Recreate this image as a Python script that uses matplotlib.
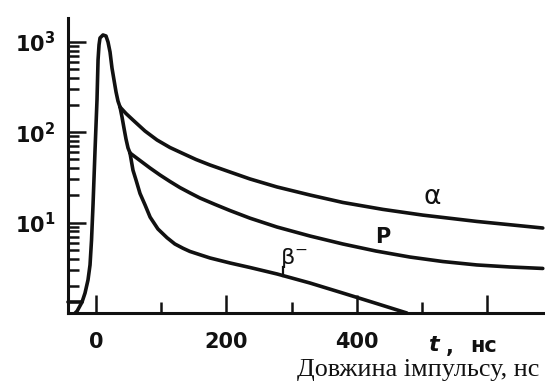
import numpy as np
import matplotlib.pyplot as plt
from matplotlib.ticker import FixedLocator, LogLocator, NullFormatter

# pulse shapes (t in ns, amplitude in arbitrary units)
rise_t = [-32, -29, -21.5, -16.9, -12.3, -9.2, -6.9, -4.6, -1.5, 1.5, 3.1, 4.6, 6.1,
          10.7, 15.3, 18.4, 21.5, 24.5, 27.6, 30.7, 33.7, 36.8]
rise_y = [1.0, 1.05, 1.32, 1.66, 2.32, 3.4, 6.4, 15.7, 63.6, 227, 629, 922, 1102,
          1190, 1159, 995, 771, 513, 378, 279, 221, 190]

alpha_t = [36.8, 46.0, 56.7, 75.2, 93.6, 113.5, 133.4, 153.4, 174.8, 205.5, 236.2,
           277.6, 328.2, 378.8, 440.2, 501.5, 584.4, 685.6]
alpha_y = [190, 161, 136.4, 103, 82, 67.7, 58.1, 49.9, 43.4, 36.3, 30.4,
           24.8, 20.2, 16.7, 14.0, 12.1, 10.3, 8.71]

common_t = [36.8, 39.9, 42.9, 46.0, 49.1, 52.1]
common_y = [190, 147, 111, 84, 67, 59]

p_t = [52.1, 67.5, 82.8, 98.2, 113.5, 128.8, 144.2, 159.5, 182.5, 205.5, 236.2,
       277.6, 328.2, 378.8, 429.4, 481.6, 532.2, 584.4, 635, 685.6]
p_y = [58.9, 48.6, 40.2, 33.6, 28.5, 24.4, 21.3, 18.7, 15.9, 13.6, 11.2,
       8.94, 7.11, 5.80, 4.85, 4.16, 3.71, 3.40, 3.23, 3.11]

beta_t = [52.1, 56.7, 61.3, 67.5, 75.2, 83, 95, 109, 121, 133.5, 144, 160, 175,
          206, 236, 278, 328, 379, 428, 477]
beta_y = [59, 38, 29.7, 21, 15.7, 11.5, 8.5, 6.8, 5.8, 5.2, 4.8, 4.4, 4.06,
          3.57, 3.19, 2.70, 2.15, 1.66, 1.29, 1.0]

base_t = [-43, -21.5]
base_y = [1.32, 1.32]

x_major = [0, 200, 400, 600]
x_major_labels = ["0", "200", "400", ""]
x_minor = [100, 300, 500]
y_major = [1e1, 1e2, 1e3]
y_major_labels = ["10$^{1}$", "10$^{2}$", "10$^{3}$"]

INK = "#111111"
LW = 2.6

plt.rcParams.update({
    "font.family": "DejaVu Sans",
    "mathtext.default": "regular",
    "text.color": INK,
})

fig = plt.figure(figsize=(5.45, 3.83), dpi=100)
ax = fig.add_axes([68 / 545, 70 / 383, 1 - 68 / 545, (313 - 18) / 383])

for t, y in [(rise_t, rise_y), (alpha_t, alpha_y), (common_t, common_y),
             (p_t, p_y), (beta_t, beta_y), (base_t, base_y)]:
    ax.plot(t, y, color=INK, linewidth=LW, solid_capstyle="round",
            solid_joinstyle="round", clip_on=False)

ax.set_yscale("log")
ax.set_xlim(-43, 689)
ax.set_ylim(1, 10 ** (295 / 90.4))

for side in ["top", "right"]:
    ax.spines[side].set_visible(False)
for side in ["left", "bottom"]:
    ax.spines[side].set_linewidth(2.2)
    ax.spines[side].set_color(INK)

ax.xaxis.set_major_locator(FixedLocator(x_major))
ax.set_xticklabels(x_major_labels)
ax.xaxis.set_minor_locator(FixedLocator(x_minor))
ax.yaxis.set_major_locator(FixedLocator(y_major))
ax.set_yticklabels(y_major_labels)
ax.yaxis.set_minor_locator(LogLocator(base=10, subs=np.arange(2, 10)))
ax.yaxis.set_minor_formatter(NullFormatter())

ax.tick_params(axis="both", which="major", direction="in", length=13, width=1.8,
               color=INK, labelsize=15, labelcolor=INK)
ax.tick_params(axis="both", which="minor", direction="in", length=8, width=1.8,
               color=INK)
ax.tick_params(axis="x", which="major", pad=14)
ax.tick_params(axis="y", which="major", pad=9)
for lbl in ax.get_xticklabels() + ax.get_yticklabels():
    lbl.set_fontweight("bold")

ax.text(515, 19.2, r"$\alpha$", fontsize=19, ha="center", va="center")
ax.text(440, 6.9, "P", fontsize=15, ha="center", va="center", fontweight="bold")
ax.text(303, 4.1, r"$\beta^{-}$", fontsize=16, ha="center", va="center")
ax.plot([287, 287], [2.55, 3.2], color=INK, linewidth=1.6)

fig.text(428 / 545, 1 - 345 / 383, "t", fontsize=16, fontstyle="italic",
         fontweight="bold", ha="left", va="center")
fig.text(446 / 545, 1 - 347 / 383, ",", fontsize=15, fontweight="bold",
         ha="left", va="center")
fig.text(470 / 545, 1 - 346 / 383, "нс", fontsize=15, fontweight="bold",
         ha="left", va="center")
fig.text(297 / 545, 1 - 376 / 383, "Довжина імпульсу, нс",
         family="Liberation Serif", fontsize=18.8, ha="left", va="baseline")

fig.savefig("out.png", dpi=100, facecolor="white")
